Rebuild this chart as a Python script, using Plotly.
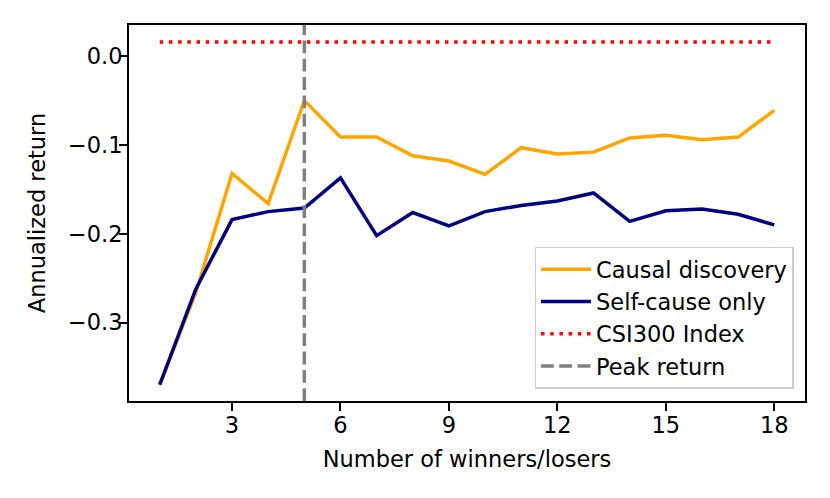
import plotly.graph_objects as go

# number of winners/losers held
n_stocks = list(range(1, 19))

causal_discovery = [-0.370, -0.266, -0.132, -0.166, -0.050, -0.091, -0.091, -0.112, -0.118,
                    -0.133, -0.103, -0.110, -0.108, -0.092, -0.089, -0.094, -0.091, -0.061]
self_cause_only = [-0.370, -0.262, -0.184, -0.175, -0.171, -0.137, -0.202, -0.176, -0.191,
                   -0.175, -0.168, -0.163, -0.154, -0.186, -0.174, -0.172, -0.178, -0.190]
csi300 = [0.016] * len(n_stocks)

peak_x = 5
y_range = [-0.3883, 0.0352]
x_range = [0.15, 18.85]

font = dict(family="DejaVu Sans", size=22.5, color="black")
lw = 3.5

fig = go.Figure()
fig.add_trace(go.Scatter(x=n_stocks, y=causal_discovery, mode="lines", name="Causal discovery",
                         line=dict(color="#FFA500", width=lw)))
fig.add_trace(go.Scatter(x=n_stocks, y=self_cause_only, mode="lines", name="Self-cause only",
                         line=dict(color="#000080", width=lw)))
fig.add_trace(go.Scatter(x=n_stocks, y=csi300, mode="lines", name="CSI300 Index",
                         line=dict(color="#FF0000", width=lw, dash="3.5px,5.7px")))
fig.add_trace(go.Scatter(x=[peak_x, peak_x], y=y_range, mode="lines", name="Peak return",
                         line=dict(color="#808080", width=lw, dash="12.8px,5.5px")))

axis_style = dict(showline=True, linecolor="black", linewidth=1.8, mirror=True,
                  ticks="outside", ticklen=8, tickwidth=1.8, tickcolor="black",
                  showgrid=False, zeroline=False, tickfont=font)

fig.update_xaxes(range=x_range, tick0=3, dtick=3, ticklabelstandoff=-5,
                 title=dict(text="Number of winners/losers", font=font, standoff=14),
                 **axis_style)
fig.update_yaxes(range=y_range, tick0=0, dtick=0.1, tickformat=".1f", ticklabelstandoff=-8,
                 title=dict(text="Annualized return", font=font, standoff=16), **axis_style)

# page body adds ~8px around the figure, so shrink to fit the window
fig.update_layout(
    width=822, height=490,
    margin=dict(l=121, r=25, t=17, b=97, autoexpand=False),
    plot_bgcolor="white", paper_bgcolor="white",
    font=font,
    showlegend=True,
    legend=dict(x=0.983, y=0.033, xanchor="right", yanchor="bottom",
                bgcolor="rgba(255,255,255,0.8)", bordercolor="#CCCCCC", borderwidth=1.5,
                font=font, itemwidth=50, tracegroupgap=0),
)

fig.write_html("out.html")
